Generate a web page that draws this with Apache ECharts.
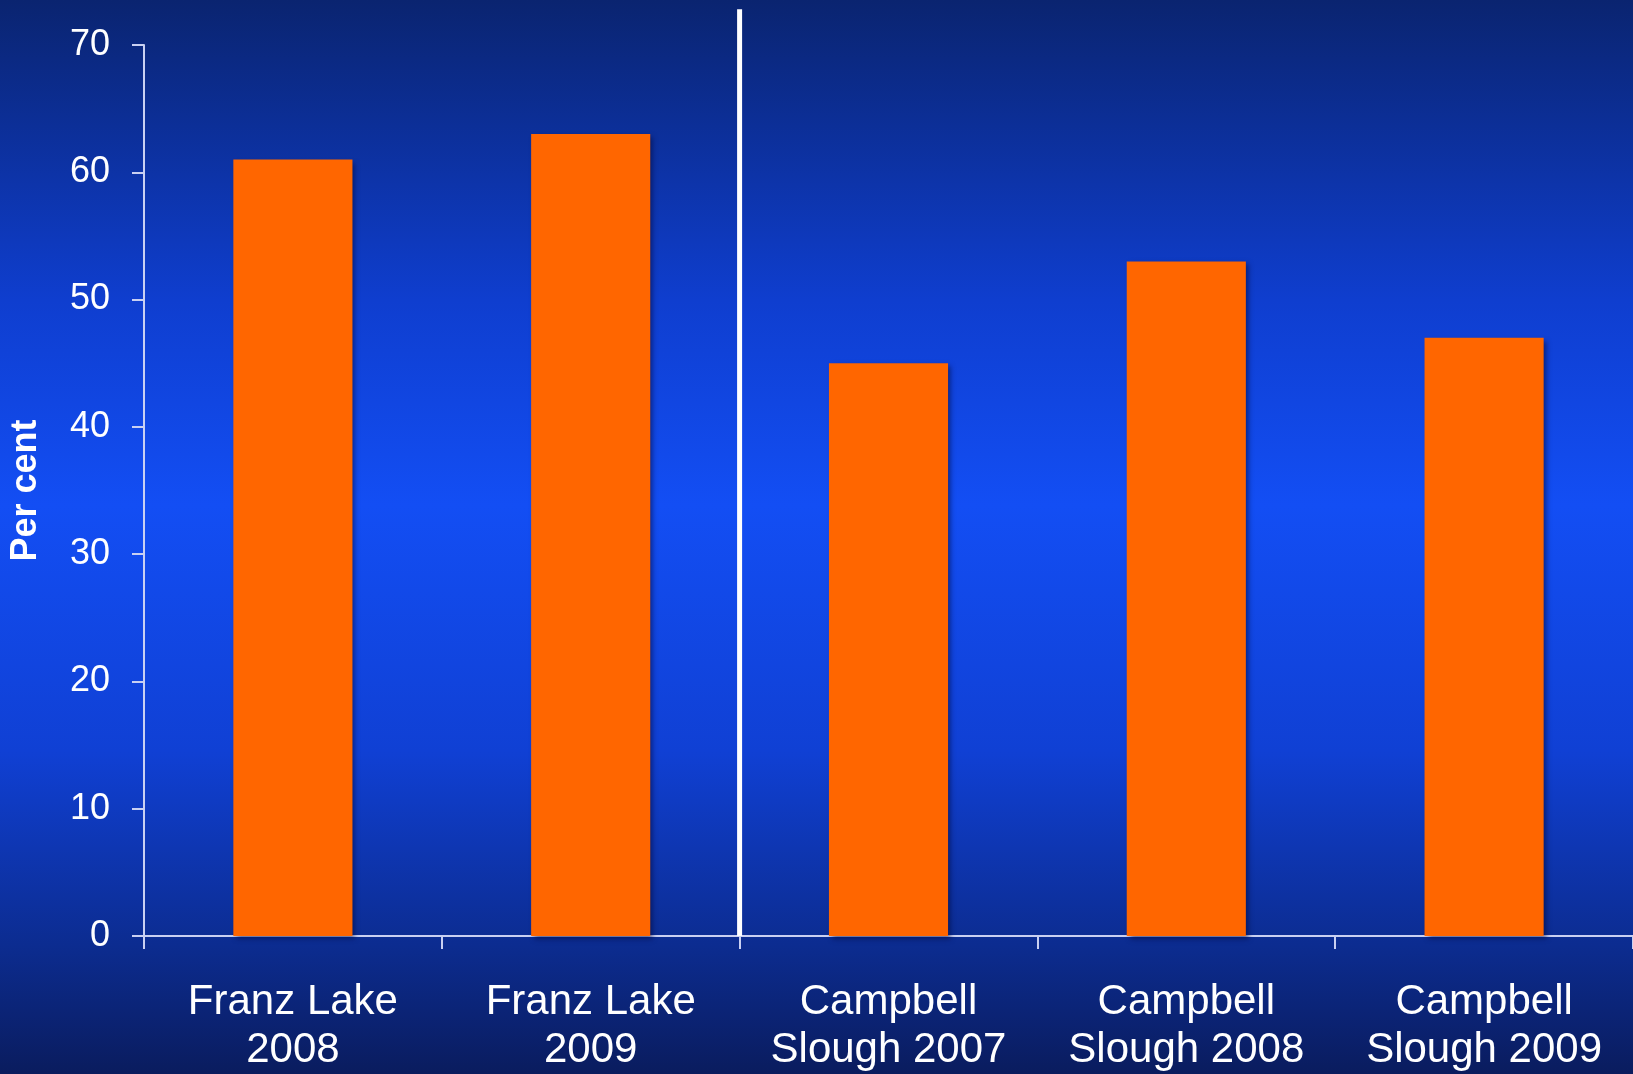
<!DOCTYPE html>
<html>
<head>
<meta charset="utf-8">
<script src="https://cdn.jsdelivr.net/npm/echarts@6/dist/echarts.min.js"></script>
<style>
html,body{margin:0;padding:0;width:1633px;height:1074px;overflow:hidden;}
#c{width:1633px;height:1074px;}
</style>
</head>
<body>
<div id="c"></div>
<script>
const categories = ['Franz Lake\n2008', 'Franz Lake\n2009', 'Campbell\nSlough 2007', 'Campbell\nSlough 2008', 'Campbell\nSlough 2009'];
const values = [61, 63, 45, 53, 47];
const yTicks = { min: 0, max: 70, interval: 10 };
const separator = [[2, 0], [2, 72.8]];

const chart = echarts.init(document.getElementById('c'), null, { renderer: 'canvas' });
const axisColor = '#c9d0f2';
chart.setOption({
  backgroundColor: {
    type: 'linear', x: 0, y: 0, x2: 0, y2: 1,
    colorStops: [
      { offset: 0, color: '#0a2470' },
      { offset: 0.28, color: '#0f3ecf' },
      { offset: 0.47, color: '#134ef4' },
      { offset: 0.7, color: '#1040d4' },
      { offset: 0.88, color: '#0c2c90' },
      { offset: 1, color: '#0a1c5e' }
    ]
  },
  textStyle: { fontFamily: 'Liberation Sans, Arial, sans-serif' },
  grid: { left: 140, right: 0, top: 45, bottom: 138 },
  xAxis: [{
    type: 'category',
    data: categories,
    boundaryGap: true,
    axisLine: { lineStyle: { color: axisColor, width: 2 } },
    axisTick: { show: true, length: 13, lineStyle: { color: axisColor, width: 2 } },
    axisLabel: { color: '#ffffff', fontSize: 42, lineHeight: 48, margin: 42, interval: 0 }
  }, {
    type: 'value', min: 0, max: 5, show: false
  }],
  yAxis: {
    type: 'value',
    min: yTicks.min, max: yTicks.max, interval: yTicks.interval,
    name: 'Per cent',
    nameLocation: 'middle',
    nameGap: 100,
    nameTextStyle: { color: '#ffffff', fontSize: 36, fontWeight: 'bold' },
    axisLine: { show: true, lineStyle: { color: axisColor, width: 2 } },
    axisTick: { show: true, length: 12, lineStyle: { color: axisColor, width: 2 } },
    axisLabel: { color: '#ffffff', fontSize: 36, margin: 34 },
    splitLine: { show: false }
  },
  series: [{
    type: 'bar',
    data: values,
    barWidth: '40%',
    itemStyle: {
      color: '#ff6600',
      shadowColor: 'rgba(0,10,60,0.55)',
      shadowBlur: 5,
      shadowOffsetX: 3,
      shadowOffsetY: 3
    },
    z: 2
  }, {
    type: 'line',
    xAxisIndex: 1,
    data: separator,
    symbol: 'none',
    clip: false,
    lineStyle: { color: '#ffffff', width: 5 },
    z: 3,
    silent: true
  }],
  animation: false
});
</script>
</body>
</html>
